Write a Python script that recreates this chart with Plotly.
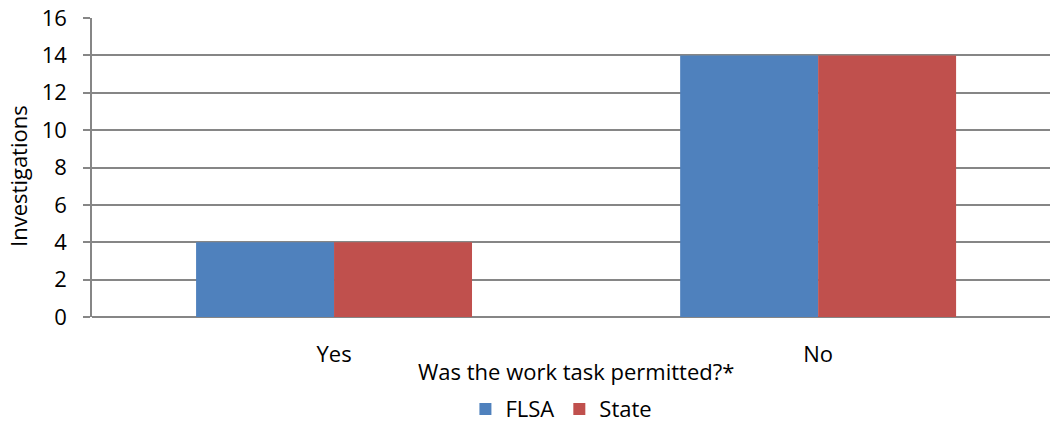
import plotly.graph_objects as go

categories = ["Yes", "No"]
flsa = [4, 14]
state = [4, 14]
y_ticks = [0, 2, 4, 6, 8, 10, 12, 14, 16]

FONT = "Open Sans"
FS = 22
fig = go.Figure()
fig.add_trace(go.Bar(name="FLSA", x=categories, y=flsa, marker=dict(color="#4F81BD", line=dict(width=0))))
fig.add_trace(go.Bar(name="State", x=categories, y=state, marker=dict(color="#C0504D", line=dict(width=0))))

fig.update_layout(
    width=1050, height=423,
    margin=dict(l=92, r=0, t=18, b=106, autoexpand=False),
    paper_bgcolor="white", plot_bgcolor="white",
    barmode="group", bargap=0.43, bargroupgap=0,
    font=dict(family=FONT, size=FS, color="#000000"),
    showlegend=True,
    legend=dict(orientation="h", x=0.49, xanchor="center", y=-0.308, yanchor="middle",
                font=dict(family=FONT, size=FS), itemwidth=30, traceorder="normal"),
    xaxis=dict(range=[-0.5, 1.479], showgrid=False, showline=False, ticks="",
               tickfont=dict(family=FONT, size=FS), ticklabelstandoff=22, zeroline=False),
    yaxis=dict(range=[0, 16], tickvals=y_ticks, showgrid=True, gridcolor="#868686", gridwidth=1.5,
               showline=True, linecolor="#868686", linewidth=1.5, ticks="outside", ticklen=7,
               tickcolor="#868686", tickwidth=1.5, zeroline=True, zerolinecolor="#868686",
               zerolinewidth=1.5, tickfont=dict(family=FONT, size=FS), ticklabelstandoff=12),
    annotations=[
        dict(text="Was the work task permitted?*", xref="paper", yref="paper",
             x=0.505, y=-0.18, xanchor="center", yanchor="middle", showarrow=False,
             font=dict(family=FONT, size=FS)),
        dict(text="Investigations", xref="paper", yref="paper", textangle=-90,
             x=-0.0772, y=0.472, xanchor="center", yanchor="middle", showarrow=False,
             font=dict(family=FONT, size=FS)),
    ],
)

fig.write_html("out.html", config={"displayModeBar": False},
               post_script="document.body.style.margin='0';")
